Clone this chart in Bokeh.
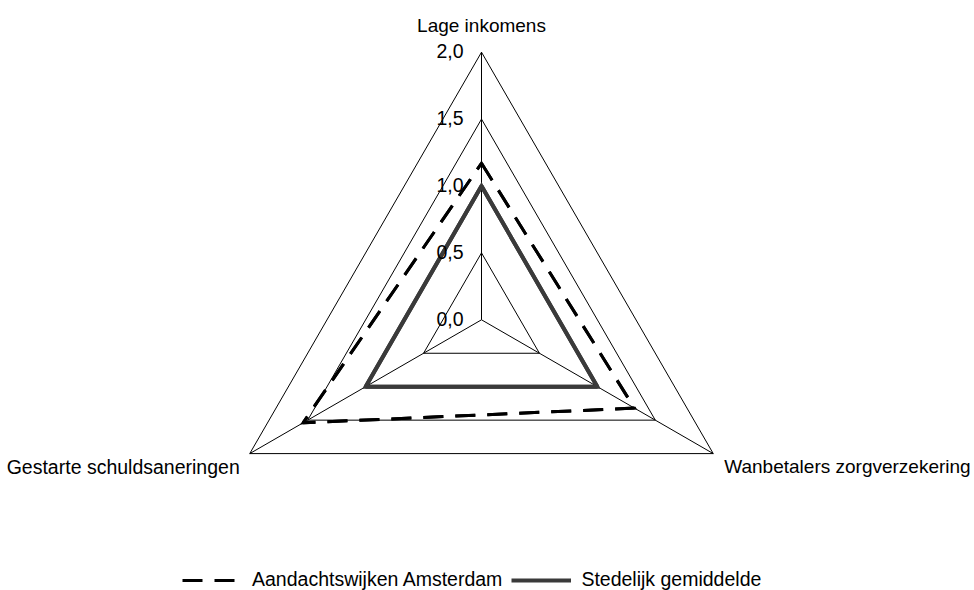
import numpy as np
from bokeh.plotting import figure
from bokeh.models import Range1d, Legend, LegendItem
from bokeh.core.properties import value
from bokeh.embed import file_html
from bokeh.resources import INLINE

# ---- data ----
categories = ["Lage inkomens", "Wanbetalers zorgverzekering", "Gestarte schuldsaneringen"]
series_names = ["Aandachtswijken Amsterdam", "Stedelijk gemiddelde"]
aandachtswijken = [1.17, 1.32, 1.54]
stedelijk = [1.0, 1.0, 1.0]
tick_values = [0.0, 0.5, 1.0, 1.5, 2.0]
tick_labels = ["0,0", "0,5", "1,0", "1,5", "2,0"]

# ---- layout / style ----
W, H = 974, 590
PX = 133.8            # pixels per unit value
CX, CY = 481.0, 319.3  # centre of radar in frame pixels (from top-left)
FONT = "Liberation Sans"
FS = "19.5px"
rmax = max(tick_values)

angles = np.pi / 2 - np.arange(len(categories)) * 2 * np.pi / len(categories)

p = figure(width=W, height=H,
           x_range=Range1d(-CX / PX, (W - CX) / PX),
           y_range=Range1d(-(H - CY) / PX, CY / PX),
           output_backend="svg", toolbar_location=None,
           x_axis_location=None, y_axis_location=None,
           min_border=0, outline_line_color=None)
p.grid.visible = False
p.background_fill_color = "white"
p.border_fill_color = "white"

# grid triangles
grid_xs, grid_ys = [], []
for t in tick_values:
    if t > 0:
        grid_xs.append(list(t * np.cos(angles)))
        grid_ys.append(list(t * np.sin(angles)))
p.patches(grid_xs, grid_ys, fill_alpha=0, line_color="black", line_width=1)

# spokes
p.segment(x0=[0] * len(categories), y0=[0] * len(categories),
          x1=list(rmax * np.cos(angles)), y1=list(rmax * np.sin(angles)),
          line_color="black", line_width=1)

# series
styles = [dict(line_color="black", line_width=3, line_dash="20 12"),
          dict(line_color="#3a3a3a", line_width=4, line_dash="solid")]
legend_items = []
for name, vals, st in zip(series_names, [aandachtswijken, stedelijk], styles):
    v = np.array(vals)
    xs = list(v * np.cos(angles))
    ys = list(v * np.sin(angles))
    r = p.line(xs + xs[:1], ys + ys[:1], **st)
    p.patch(xs, ys, fill_alpha=0, line_join="miter", **st)
    legend_items.append(LegendItem(label=name, renderers=[r]))

# tick labels
p.text(x=[0] * len(tick_values), y=tick_values, text=tick_labels,
       text_align="right", text_baseline="middle", x_offset=-18, y_offset=-1,
       text_font=value(FONT), text_font_size=FS, text_color="black")

# category labels
cat_styles = [dict(text_align="center", x_offset=0, y_offset=-27, text_font_size="19px"),
              dict(text_align="left", x_offset=11, y_offset=13, text_font_size="19px"),
              dict(text_align="right", x_offset=-10, y_offset=13, text_font_size="19.5px")]
for cat, a, st in zip(categories, angles, cat_styles):
    p.text(x=[rmax * np.cos(a)], y=[rmax * np.sin(a)], text=[cat],
           text_baseline="middle", text_font=value(FONT),
           text_color="black", **st)

legend = Legend(items=legend_items, orientation="horizontal", location=(182, -1),
                label_text_font=FONT, label_text_font_size=FS, label_text_color="black",
                glyph_width=60, glyph_height=20, label_height=20, label_standoff=10,
                spacing=9, padding=0, margin=0, border_line_color=None,
                background_fill_alpha=0)
p.add_layout(legend)

open("out.html", "w").write(file_html(p, INLINE))
